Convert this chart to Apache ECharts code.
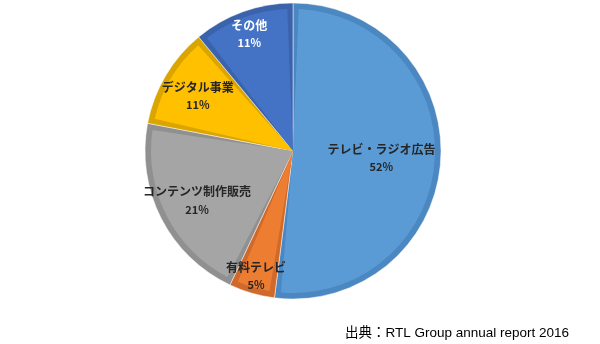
<!DOCTYPE html>
<html><head><meta charset="utf-8">
<script src="https://cdn.jsdelivr.net/npm/echarts@6/dist/echarts.min.js"></script>
<style>html,body{margin:0;padding:0;background:#fff}#c{width:600px;height:344px}</style>
</head><body><div id="c"></div>
<script>
const categories = ['テレビ・ラジオ広告', '有料テレビ', 'コンテンツ制作販売', 'デジタル事業', 'その他'];
const shares = [52, 5, 21, 11, 11];
const sourceNote = '出典：RTL Group annual report 2016';

const fillColors = ['#5b9bd5', '#ed7d31', '#a5a5a5', '#ffc000', '#4472c4'];
const edgeColors = ['#4b87c0', '#d0692a', '#909090', '#dba500', '#3b63ab'];
const labelColors = ['#262626', '#262626', '#262626', '#262626', '#ffffff'];
const labelFrac = [0.585, 0.85, 0.70, 0.72, 0.83];

const CX = 293, CY = 151, R = 148, EDGE = 6;

const series = [];
// dark outer band layer
series.push({
  type: 'pie', center: [CX, CY], radius: [0, R], silent: true, animation: false,
  startAngle: 90, clockwise: true,
  label: { show: false }, labelLine: { show: false },
  data: categories.map((n, i) => ({ name: n, value: shares[i],
    itemStyle: { color: edgeColors[i], borderColor: 'rgba(255,255,255,0.6)', borderWidth: 0.8 } }))
});
// light inner fill layer
series.push({
  type: 'pie', center: [CX, CY], radius: [0, R - EDGE], silent: true, animation: false,
  startAngle: 90, clockwise: true, padAngle: 4.6,
  label: { show: false }, labelLine: { show: false },
  data: categories.map((n, i) => ({ name: n, value: shares[i],
    itemStyle: { color: fillColors[i], borderWidth: 0 } }))
});
// label layers (one per slice, transparent)
categories.forEach((cat, k) => {
  const r0 = (2 * labelFrac[k] - 1) * R;
  series.push({
    type: 'pie', center: [CX - 1, CY + 1], radius: [r0, R], silent: true, animation: false,
    startAngle: 90, clockwise: true,
    labelLine: { show: false },
    itemStyle: { color: 'rgba(0,0,0,0)', borderWidth: 0 },
    data: categories.map((n, i) => ({ name: n, value: shares[i],
      label: i === k ? {
        show: true, position: 'inside',
        formatter: '{n|{b}}\n{p|{c}%}',
        rich: {
          n: { fontFamily: 'Noto Sans CJK JP', fontWeight: 'bold', fontSize: 12, color: labelColors[i], lineHeight: 18, align: 'center' },
          p: { fontFamily: 'Noto Sans CJK JP', fontWeight: 'bold', fontSize: 11, color: labelColors[i], lineHeight: 17, align: 'center' }
        }
      } : { show: false } }))
  });
});

const chart = echarts.init(document.getElementById('c'), null, { renderer: 'canvas' });
chart.setOption({
  backgroundColor: '#ffffff',
  animation: false,
  title: {
    text: sourceNote, left: 340, top: 322,
    textStyle: { fontFamily: "'Liberation Sans', 'Noto Sans CJK JP'", fontSize: 13.5, fontWeight: 'normal', color: '#000000' }
  },
  series: series
});
</script></body></html>
